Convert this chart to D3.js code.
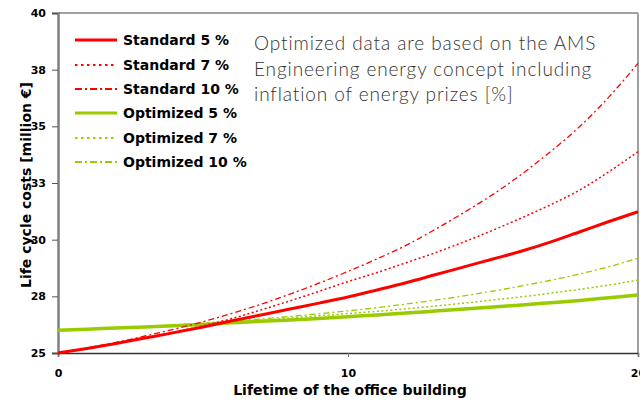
<!DOCTYPE html>
<html>
<head>
<meta charset="utf-8">
<script src="https://cdn.jsdelivr.net/npm/d3@7"></script>
<style>
  body { margin: 0; background: #fff; }
  svg { display: block; }
</style>
</head>
<body>
<div id="chart"></div>
<script>
// years of the building lifetime
var years = d3.range(0, 21);

// life cycle costs in million euro
var std5  = [25.0, 25.2, 25.42, 25.66, 25.9, 26.15, 26.42, 26.68, 26.94, 27.2, 27.47, 27.78, 28.1, 28.45, 28.8, 29.15, 29.5, 29.9, 30.35, 30.8, 31.23];
var std7  = [25.0, 25.2, 25.42, 25.66, 25.92, 26.2, 26.52, 26.9, 27.3, 27.72, 28.15, 28.55, 28.98, 29.42, 29.9, 30.42, 30.97, 31.55, 32.2, 33.0, 33.88];
var std10 = [25.0, 25.22, 25.47, 25.75, 26.05, 26.38, 26.75, 27.15, 27.6, 28.08, 28.6, 29.15, 29.75, 30.45, 31.2, 32.0, 32.9, 33.9, 35.0, 36.3, 37.78];
var opt5  = [26.0, 26.05, 26.1, 26.15, 26.2, 26.26, 26.33, 26.4, 26.46, 26.52, 26.6, 26.68, 26.76, 26.85, 26.94, 27.03, 27.12, 27.22, 27.32, 27.44, 27.56];
var opt7  = [26.0, 26.05, 26.1, 26.16, 26.22, 26.29, 26.37, 26.45, 26.54, 26.64, 26.74, 26.84, 26.95, 27.07, 27.2, 27.34, 27.48, 27.64, 27.81, 28.0, 28.22];
var opt10 = [26.0, 26.05, 26.1, 26.17, 26.24, 26.32, 26.41, 26.5, 26.61, 26.73, 26.86, 27.0, 27.16, 27.33, 27.52, 27.73, 27.96, 28.21, 28.49, 28.81, 29.18];

var seriesNames = ['Standard 5 %', 'Standard 7 %', 'Standard 10 %', 'Optimized 5 %', 'Optimized 7 %', 'Optimized 10 %'];
var yTicks = [25, 27.5, 30, 32.5, 35, 37.5, 40];
var xTicks = [0, 10, 20];
var noteLines = ['Optimized data are based on the AMS', 'Engineering energy concept including', 'inflation of energy prizes [%]'];

var RED = '#ff0000', GREEN = '#99cc00';
var styles = [
  {color: RED,   width: 3,   dash: null},
  {color: RED,   width: 1.5, dash: '2,2.5'},
  {color: RED,   width: 1.3, dash: '6,3,2,3'},
  {color: GREEN, width: 3.5, dash: null},
  {color: GREEN, width: 1.5, dash: '2,2.5'},
  {color: GREEN, width: 1.3, dash: '6,3,2,3'}
];
var allSeries = [std5, std7, std10, opt5, opt7, opt10];

var W = 640, H = 401;
var plotL = 58, plotR = 638, plotT = 13, plotB = 353;

var svg = d3.select('#chart').append('svg')
  .attr('width', W).attr('height', H);

var x = d3.scaleLinear().domain([0, 20]).range([plotL, plotR]);
var y = d3.scaleLinear().domain([25, 40]).range([plotB, plotT]);

// frame top and right
svg.append('line').attr('x1', plotL).attr('x2', plotR).attr('y1', plotT).attr('y2', plotT)
  .attr('stroke', '#808080').attr('stroke-width', 1.5);
svg.append('line').attr('x1', plotR).attr('x2', plotR).attr('y1', plotT).attr('y2', plotB)
  .attr('stroke', '#a0a0a0').attr('stroke-width', 2);

// y axis
var yAxis = svg.append('g')
  .attr('transform', 'translate(' + plotL + ',0)')
  .call(d3.axisLeft(y).tickValues(yTicks).tickSize(6).tickPadding(6).tickFormat(d3.format('.0f')));
yAxis.select('.domain').attr('stroke', '#808080').attr('stroke-width', 2.5);
yAxis.selectAll('.tick line').attr('stroke', '#555');
yAxis.selectAll('text')
  .style('font-family', 'DejaVu Sans').style('font-weight', 'bold').style('font-size', '11px')
  .attr('fill', '#000');

// x axis
var xAxis = svg.append('g')
  .attr('transform', 'translate(0,' + plotB + ')')
  .call(d3.axisBottom(x).tickValues(xTicks).tickSize(4).tickPadding(12).tickFormat(d3.format('d')));
xAxis.select('.domain').attr('stroke', '#333').attr('stroke-width', 1.5);
xAxis.selectAll('.tick line').attr('stroke', '#777');
xAxis.selectAll('text')
  .style('font-family', 'DejaVu Sans').style('font-weight', 'bold').style('font-size', '11px')
  .attr('fill', '#000');

// axis titles
svg.append('text')
  .attr('x', 350).attr('y', 395)
  .attr('text-anchor', 'middle')
  .style('font-family', 'DejaVu Sans').style('font-weight', 'bold').style('font-size', '14px')
  .text('Lifetime of the office building');

svg.append('text')
  .attr('transform', 'translate(31,185) rotate(-90)')
  .attr('text-anchor', 'middle')
  .style('font-family', 'DejaVu Sans').style('font-weight', 'bold').style('font-size', '14px')
  .text('Life cycle costs [million €]');

// lines
var line = d3.line()
  .x(function(d, i) { return x(years[i]); })
  .y(function(d) { return y(d); })
  .curve(d3.curveMonotoneX);

svg.append('g').selectAll('path')
  .data(allSeries.map(function(s, i) { return {values: s, style: styles[i]}; }).reverse())
  .enter().append('path')
  .attr('d', function(d) { return line(d.values); })
  .attr('fill', 'none')
  .attr('stroke', function(d) { return d.style.color; })
  .attr('stroke-width', function(d) { return d.style.width; })
  .attr('stroke-dasharray', function(d) { return d.style.dash; });

// legend
var legend = svg.append('g');
var rowY = [40, 65, 89, 113, 138, 162];
seriesNames.forEach(function(name, i) {
  var st = styles[i];
  legend.append('line')
    .attr('x1', 75).attr('x2', 117).attr('y1', rowY[i]).attr('y2', rowY[i])
    .attr('stroke', st.color).attr('stroke-width', st.dash ? 2 : 3)
    .attr('stroke-dasharray', st.dash ? (i % 3 === 1 ? '2.5,3.5' : '7,3,2,3') : null);
  legend.append('text')
    .attr('x', 123).attr('y', rowY[i] + 5)
    .style('font-family', 'DejaVu Sans').style('font-weight', 'bold').style('font-size', '14px')
    .text(name);
});

// note
svg.append('g').selectAll('text')
  .data(noteLines).enter().append('text')
  .attr('x', 254).attr('y', function(d, i) { return 50 + i * 25.5; })
  .style('font-family', 'Lato').style('font-weight', '300').style('font-size', '19px')
  .style('letter-spacing', '0.9px')
  .attr('fill', '#333')
  .text(function(d) { return d; });
</script>
</body>
</html>
